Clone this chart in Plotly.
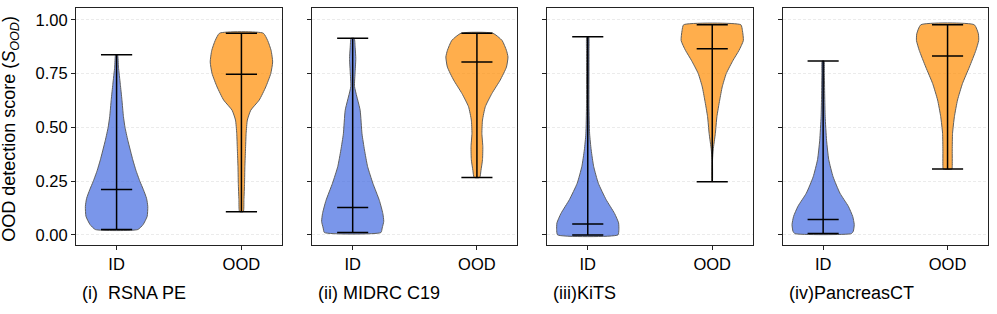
import plotly.graph_objects as go

# ---------------- data ----------------
panel_titles = ["(i)\u00a0 RSNA PE", "(ii) MIDRC C19", "(iii)KiTS", "(iv)PancreasCT"]
group_labels = ["ID", "OOD"]
y_ticks = [0.0, 0.25, 0.5, 0.75, 1.0]

id_min = [0.025, 0.011, 0.000, 0.006]
id_med = [0.211, 0.127, 0.051, 0.071]
id_max = [0.838, 0.914, 0.921, 0.809]
ood_min = [0.108, 0.267, 0.247, 0.306]
ood_med = [0.747, 0.804, 0.866, 0.832]
ood_max = [0.938, 0.938, 0.977, 0.977]

# kernel-density profiles (score level, relative density)
rsna_id_lv = [0.025, 0.048, 0.086, 0.132, 0.17, 0.21, 0.248, 0.30, 0.349, 0.44, 0.50, 0.55, 0.63, 0.70, 0.78, 0.838]
rsna_id_dn = [0.68, 0.85, 0.98, 1.00, 0.96, 0.86, 0.75, 0.62, 0.52, 0.36, 0.27, 0.22, 0.17, 0.12, 0.06, 0.03]
rsna_ood_lv = [0.108, 0.164, 0.24, 0.318, 0.395, 0.472, 0.534, 0.58, 0.627, 0.688, 0.75, 0.804, 0.858, 0.904, 0.938]
rsna_ood_dn = [0.06, 0.08, 0.10, 0.11, 0.13, 0.15, 0.19, 0.30, 0.57, 0.78, 0.94, 1.00, 0.95, 0.84, 0.70]

midrc_id_lv = [0.011, 0.032, 0.063, 0.10, 0.16, 0.24, 0.318, 0.395, 0.47, 0.58, 0.69, 0.76, 0.82, 0.87, 0.914]
midrc_id_dn = [0.91, 0.95, 1.00, 0.97, 0.86, 0.65, 0.48, 0.38, 0.30, 0.24, 0.06, 0.08, 0.10, 0.08, 0.05]
midrc_ood_lv = [0.267, 0.30, 0.35, 0.41, 0.472, 0.534, 0.596, 0.657, 0.72, 0.78, 0.827, 0.858, 0.904, 0.938]
midrc_ood_dn = [0.09, 0.13, 0.18, 0.19, 0.16, 0.18, 0.27, 0.48, 0.75, 0.95, 1.00, 0.95, 0.81, 0.51]

kits_id_lv = [0.0, 0.025, 0.056, 0.10, 0.164, 0.24, 0.318, 0.395, 0.47, 0.60, 0.75, 0.85, 0.921]
kits_id_dn = [0.97, 1.00, 0.99, 0.86, 0.59, 0.34, 0.19, 0.11, 0.06, 0.04, 0.04, 0.04, 0.03]
kits_ood_lv = [0.247, 0.35, 0.395, 0.472, 0.55, 0.627, 0.688, 0.75, 0.812, 0.858, 0.904, 0.95, 0.977]
kits_ood_dn = [0.005, 0.01, 0.03, 0.10, 0.15, 0.24, 0.32, 0.45, 0.67, 0.86, 1.00, 0.97, 0.92]

panc_id_lv = [0.006, 0.017, 0.048, 0.086, 0.133, 0.194, 0.27, 0.35, 0.44, 0.55, 0.65, 0.75, 0.809]
panc_id_dn = [0.91, 0.97, 1.00, 0.95, 0.81, 0.54, 0.32, 0.18, 0.11, 0.065, 0.05, 0.04, 0.03]
panc_ood_lv = [0.306, 0.318, 0.395, 0.472, 0.55, 0.627, 0.704, 0.78, 0.858, 0.904, 0.935, 0.977]
panc_ood_dn = [0.14, 0.15, 0.15, 0.16, 0.22, 0.32, 0.48, 0.70, 0.91, 1.00, 0.99, 0.86]

profiles = [
    ((rsna_id_lv, rsna_id_dn), (rsna_ood_lv, rsna_ood_dn)),
    ((midrc_id_lv, midrc_id_dn), (midrc_ood_lv, midrc_ood_dn)),
    ((kits_id_lv, kits_id_dn), (kits_ood_lv, kits_ood_dn)),
    ((panc_id_lv, panc_id_dn), (panc_ood_lv, panc_ood_dn)),
]

# ---------------- style ----------------
FONT = "Liberation Sans, Arial, sans-serif"
fills = ["rgba(65,105,225,0.7)", "rgba(255,140,0,0.7)"]
edge = "rgb(95,95,95)"
HALF_W = 0.25   # violin half width (widths=0.5)
CAP = 0.125     # half length of min/max/median bars
positions = [1, 2]

W, H = 997, 314
L, R, T, B = 76, 9, 7.5, 68.5
PW = W - L - R
PH = H - T - B
panel_px = [(0, 206), (236.3, 441.3), (471.3, 676.7), (706.7, 912)]

fig = go.Figure()

for i in range(4):
    ax = "" if i == 0 else str(i + 1)
    xref, yref = "x" + ax, "y" + ax
    mins = [id_min[i], ood_min[i]]
    meds = [id_med[i], ood_med[i]]
    maxs = [id_max[i], ood_max[i]]
    for g in range(2):
        lv, dn = profiles[i][g]
        pos = positions[g]
        xs = [pos + HALF_W * d for d in dn] + [pos - HALF_W * d for d in reversed(dn)]
        ys = list(lv) + list(reversed(lv))
        xs.append(xs[0]); ys.append(ys[0])
        fig.add_trace(go.Scatter(
            x=xs, y=ys, mode="lines", fill="toself", fillcolor=fills[g],
            line=dict(color=edge, width=1, shape="spline", smoothing=0.5),
            xaxis=xref, yaxis=yref, showlegend=False, hoverinfo="skip"))
        # vertical extent line
        fig.add_trace(go.Scatter(
            x=[pos, pos], y=[mins[g], maxs[g]], mode="lines",
            line=dict(color="black", width=1.5),
            xaxis=xref, yaxis=yref, showlegend=False, hoverinfo="skip"))
        # min, max and median bars
        for val in (mins[g], maxs[g], meds[g]):
            fig.add_trace(go.Scatter(
                x=[pos - CAP, pos + CAP], y=[val, val], mode="lines",
                line=dict(color="black", width=1.5),
                xaxis=xref, yaxis=yref, showlegend=False, hoverinfo="skip"))

    x0, x1 = panel_px[i]
    xa = dict(domain=[x0 / PW, x1 / PW], range=[0.675, 2.325],
              tickvals=positions, ticktext=group_labels,
              showline=True, mirror=True, linecolor="#222", linewidth=1,
              ticks="outside", ticklen=4, tickcolor="#222",
              showgrid=False, zeroline=False,
              tickfont=dict(family=FONT, size=16.5, color="black"),
              anchor=yref, fixedrange=True)
    ya = dict(domain=[0, 1], range=[-0.047, 1.055],
              tickvals=y_ticks, tickformat=".2f",
              showline=True, mirror=True, linecolor="#222", linewidth=1,
              ticks="outside", ticklen=4, tickcolor="#222",
              showgrid=True, gridcolor="#ebebeb", gridwidth=0.8, griddash="3px,2px",
              zeroline=False, showticklabels=(i == 0),
              tickfont=dict(family=FONT, size=16.5, color="black"),
              anchor=xref, fixedrange=True)
    fig.layout["xaxis" + ax] = xa
    fig.layout["yaxis" + ax] = ya

    fig.add_annotation(
        text=panel_titles[i], xref="paper", yref="paper",
        x=(x0 + 4) / PW, y=-(293.5 - (H - B)) / PH,
        xanchor="left", yanchor="middle", showarrow=False,
        font=dict(family=FONT, size=18, color="black"))

fig.add_annotation(
    text="OOD detection score (<i>S</i><sub><i>OOD</i></sub>)",
    xref="paper", yref="paper", x=(11 - L) / PW, y=0.49,
    xanchor="center", yanchor="middle", textangle=-90, showarrow=False,
    font=dict(family=FONT, size=18, color="black"))

fig.update_layout(
    width=W, height=H, margin=dict(l=L, r=R, t=T, b=B, autoexpand=False),
    paper_bgcolor="white", plot_bgcolor="white", showlegend=False)

fig.write_html("out.html", config={"displayModeBar": False},
               post_script="document.body.style.margin='0';")
